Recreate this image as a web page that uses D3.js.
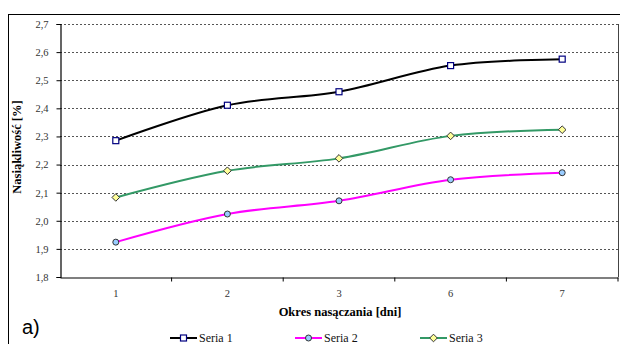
<!DOCTYPE html>
<html>
<head>
<meta charset="utf-8">
<script src="https://cdn.jsdelivr.net/npm/d3@7"></script>
<style>
  html, body { margin: 0; padding: 0; background: #fff; }
  svg { display: block; }
</style>
</head>
<body>
<svg id="chart" width="620" height="344"></svg>
<script>
// Soaking period categories (days) and absorbability series (%)
const categories = ["1", "2", "3", "6", "7"];
const seria1 = [2.285, 2.411, 2.459, 2.552, 2.575];
const seria2 = [1.924, 2.024, 2.071, 2.146, 2.171];
const seria3 = [2.083, 2.178, 2.222, 2.302, 2.324];
const seriesNames = ["Seria 1", "Seria 2", "Seria 3"];
const yTicks = [1.8, 1.9, 2.0, 2.1, 2.2, 2.3, 2.4, 2.5, 2.6, 2.7];

const series = [
  { name: seriesNames[0], values: seria1, color: "#000000", marker: "square",  mFill: "#ffffff", mStroke: "#000080" },
  { name: seriesNames[1], values: seria2, color: "#ff00ff", marker: "circle",  mFill: "#99ccff", mStroke: "#333333" },
  { name: seriesNames[2], values: seria3, color: "#339966", marker: "diamond", mFill: "#ffff99", mStroke: "#333333" }
];

const svg = d3.select("#chart");
const serif = "'Liberation Serif', 'Times New Roman', serif";

// Outer frame
svg.append("rect")
  .attr("x", 8.5).attr("y", 14.5)
  .attr("width", 640).attr("height", 360)
  .attr("fill", "none").attr("stroke", "#000").attr("stroke-width", 1);

const plot = { left: 60, right: 618, top: 24, bottom: 277 };

const x = d3.scaleBand().domain(categories).range([plot.left, plot.right]).padding(0);
const y = d3.scaleLinear().domain([1.8, 2.7]).range([plot.bottom, plot.top]);

// Horizontal dotted gridlines
svg.append("g")
  .selectAll("line")
  .data(yTicks.filter(t => t > 1.8))
  .join("line")
  .attr("x1", plot.left).attr("x2", plot.right)
  .attr("y1", d => Math.round(y(d)) + 0.5).attr("y2", d => Math.round(y(d)) + 0.5)
  .attr("stroke", "#555").attr("stroke-width", 1)
  .attr("stroke-dasharray", "2,2");

// Right edge of plot area
svg.append("line")
  .attr("x1", plot.right + 0.5).attr("x2", plot.right + 0.5)
  .attr("y1", plot.top).attr("y2", plot.bottom)
  .attr("stroke", "#444").attr("stroke-width", 1);

// Y axis
const yAxis = svg.append("g")
  .attr("transform", `translate(${plot.left + 0.5},0)`)
  .call(d3.axisLeft(y).tickValues(yTicks).tickSize(4).tickPadding(8)
    .tickFormat(d => d3.format(".1f")(d).replace(".", ",")));
yAxis.select(".domain").attr("stroke", "#000").attr("stroke-width", 1.2);
yAxis.selectAll(".tick line").attr("stroke", "#000");
yAxis.selectAll(".tick text")
  .attr("font-family", serif).attr("font-size", 10.5).attr("fill", "#333");

// X axis with ticks at band boundaries
const xAxis = svg.append("g")
  .attr("transform", `translate(0,${plot.bottom + 0.5})`)
  .call(d3.axisBottom(x).tickSize(0).tickPadding(12));
xAxis.select(".domain").attr("stroke", "#000").attr("stroke-width", 1.2);
xAxis.selectAll(".tick text")
  .attr("font-family", serif).attr("font-size", 10.5).attr("fill", "#333");
xAxis.append("g")
  .selectAll("line")
  .data(categories)
  .join("line")
  .attr("x1", d => x(d) + x.bandwidth()).attr("x2", d => x(d) + x.bandwidth())
  .attr("y1", 0).attr("y2", 4)
  .attr("stroke", "#000");

// Axis titles
svg.append("text")
  .attr("transform", "translate(21,147) rotate(-90)")
  .attr("text-anchor", "middle")
  .attr("font-family", serif).attr("font-weight", "bold").attr("font-size", 12.5)
  .text("Nasiąkliwość [%]");

svg.append("text")
  .attr("x", 340).attr("y", 316)
  .attr("text-anchor", "middle")
  .attr("font-family", serif).attr("font-weight", "bold").attr("font-size", 12.5)
  .text("Okres nasączania [dni]");

// Panel label
svg.append("text")
  .attr("x", 22).attr("y", 334)
  .attr("font-family", "'Liberation Sans', Arial, sans-serif").attr("font-size", 20)
  .text("a)");

// Marker drawing helper
function drawMarker(sel, s, cx, cy) {
  if (s.marker === "square") {
    sel.append("rect")
      .attr("x", cx - 3).attr("y", cy - 3).attr("width", 6).attr("height", 6)
      .attr("fill", s.mFill).attr("stroke", s.mStroke).attr("stroke-width", 1.2);
  } else if (s.marker === "circle") {
    sel.append("circle")
      .attr("cx", cx).attr("cy", cy).attr("r", 3)
      .attr("fill", s.mFill).attr("stroke", s.mStroke).attr("stroke-width", 1);
  } else {
    sel.append("path")
      .attr("d", `M${cx},${cy - 3.8}L${cx + 3.8},${cy}L${cx},${cy + 3.8}L${cx - 3.8},${cy}Z`)
      .attr("fill", s.mFill).attr("stroke", s.mStroke).attr("stroke-width", 1);
  }
}

// Smoothed series lines
const line = d3.line()
  .x((d, i) => x(categories[i]) + x.bandwidth() / 2)
  .y(d => y(d))
  .curve(d3.curveCatmullRom.alpha(0));

series.forEach(s => {
  svg.append("path")
    .datum(s.values)
    .attr("d", line)
    .attr("fill", "none").attr("stroke", s.color).attr("stroke-width", 2);
});
series.forEach(s => {
  const g = svg.append("g");
  s.values.forEach((v, i) => drawMarker(g, s, x(categories[i]) + x.bandwidth() / 2, y(v)));
});

// Legend
const legendY = 338;
series.forEach((s, i) => {
  const lx = 170 + i * 125;
  const g = svg.append("g");
  g.append("line")
    .attr("x1", lx).attr("x2", lx + 27).attr("y1", legendY).attr("y2", legendY)
    .attr("stroke", s.color).attr("stroke-width", 2);
  drawMarker(g, s, lx + 13.5, legendY);
  g.append("text")
    .attr("x", lx + 29).attr("y", legendY + 4)
    .attr("font-family", serif).attr("font-size", 12).attr("fill", "#111")
    .text(s.name);
});
</script>
</body>
</html>
